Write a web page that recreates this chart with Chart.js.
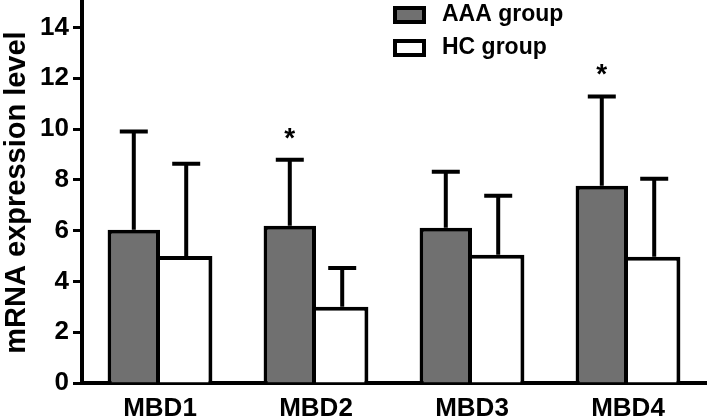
<!DOCTYPE html>
<html>
<head>
<meta charset="utf-8">
<script src="https://cdn.jsdelivr.net/npm/chart.js@4/dist/chart.umd.min.js"></script>
<style>
  html, body { margin: 0; padding: 0; background: #fff; }
  #wrap { width: 709px; height: 418px; }
</style>
</head>
<body>
<div id="wrap"><canvas id="mbdChart"></canvas></div>
<script>
const categories = ['MBD1', 'MBD2', 'MBD3', 'MBD4'];
const aaaMeans = [6.03, 6.19, 6.11, 7.77];
const aaaUpper = [9.9, 8.79, 8.32, 11.28];   // mean + SD
const hcMeans = [5.0, 3.0, 5.05, 4.97];
const hcUpper = [8.63, 4.53, 7.37, 8.04];
const aaaStars = [false, true, false, true];
const seriesNames = ['AAA group', 'HC group'];
const yTicks = [0, 2, 4, 6, 8, 10, 12, 14];

const FONT = '"Liberation Sans", Arial, sans-serif';
const GRAY = '#707070';

// error bars + significance stars
const errorBars = {
    id: 'errorBars',
    afterDatasetsDraw(chart) {
        const c = chart.ctx;
        const y = chart.scales.y;
        const uppers = [aaaUpper, hcUpper];
        c.save();
        c.strokeStyle = '#000';
        c.lineWidth = 4;
        uppers.forEach((up, di) => {
            chart.getDatasetMeta(di).data.forEach((bar, i) => {
                const top = y.getPixelForValue(up[i]);
                c.beginPath();
                c.moveTo(bar.x, bar.y);
                c.lineTo(bar.x, top);
                c.moveTo(bar.x - 14, top);
                c.lineTo(bar.x + 14, top);
                c.stroke();
                if (di === 0 && aaaStars[i]) {
                    c.fillStyle = '#000';
                    c.font = 'bold 28px ' + FONT;
                    c.textAlign = 'center';
                    c.textBaseline = 'alphabetic';
                    c.fillText('*', bar.x, top - 13);
                }
            });
        });
        c.restore();
    }
};

// legend drawn at top-middle like the original
const boxLegend = {
    id: 'boxLegend',
    afterDraw(chart) {
        const c = chart.ctx;
        const fills = [GRAY, '#fff'];
        c.save();
        seriesNames.forEach((name, i) => {
            const bx = 393, by = 6 + i * 33;
            c.fillStyle = '#000';
            c.fillRect(bx, by, 33, 18);
            c.fillStyle = fills[i];
            c.fillRect(bx + 4, by + 4, 25, 10);
            c.fillStyle = '#000';
            c.font = 'bold 23px ' + FONT;
            c.textAlign = 'left';
            c.textBaseline = 'middle';
            c.fillText(name, 442, by + 9);
        });
        c.restore();
    }
};

new Chart(document.getElementById('mbdChart'), {
    type: 'bar',
    data: {
        labels: categories,
        datasets: [{
            label: seriesNames[0],
            data: aaaMeans,
            backgroundColor: GRAY,
            borderColor: '#000',
            borderWidth: 4,
            borderSkipped: 'start'
        }, {
            label: seriesNames[1],
            data: hcMeans,
            backgroundColor: '#fff',
            borderColor: '#000',
            borderWidth: { top: 4, right: 4, left: 0, bottom: 0 },
            borderSkipped: false
        }]
    },
    options: {
        responsive: true,
        maintainAspectRatio: false,
        animation: false,
        layout: { padding: { top: 2, right: 3, left: 0, bottom: 0 } },
        datasets: { bar: { barPercentage: 1, categoryPercentage: 0.672 } },
        plugins: { legend: { display: false }, tooltip: { enabled: false } },
        scales: {
            x: {
                grid: { display: false, drawTicks: false },
                border: { color: '#000', width: 4 },
                ticks: { color: '#000', padding: 10, font: { family: FONT, size: 26, weight: 'bold' } },
                afterFit(s) { s.height = 35; s.paddingLeft = 0; s.paddingRight = 0; }
            },
            y: {
                min: 0,
                max: 15,
                afterBuildTicks(s) { s.ticks = yTicks.map(v => ({ value: v })); },
                ticks: {
                    color: '#000',
                    padding: 4,
                    autoSkip: false,
                    font: { family: FONT, size: 26, weight: 'bold' }
                },
                grid: { drawOnChartArea: false, tickLength: 9, tickWidth: 3, tickColor: '#000' },
                border: { color: '#000', width: 4 },
                title: {
                    display: true,
                    text: 'mRNA expression level',
                    color: '#000',
                    padding: { top: 0, bottom: 2 },
                    font: { family: FONT, size: 29, weight: 'bold' }
                },
                afterFit(s) { s.width = 82; s.paddingTop = 0; s.paddingBottom = 0; }
            }
        }
    },
    plugins: [errorBars, boxLegend]
});
</script>
</body>
</html>
